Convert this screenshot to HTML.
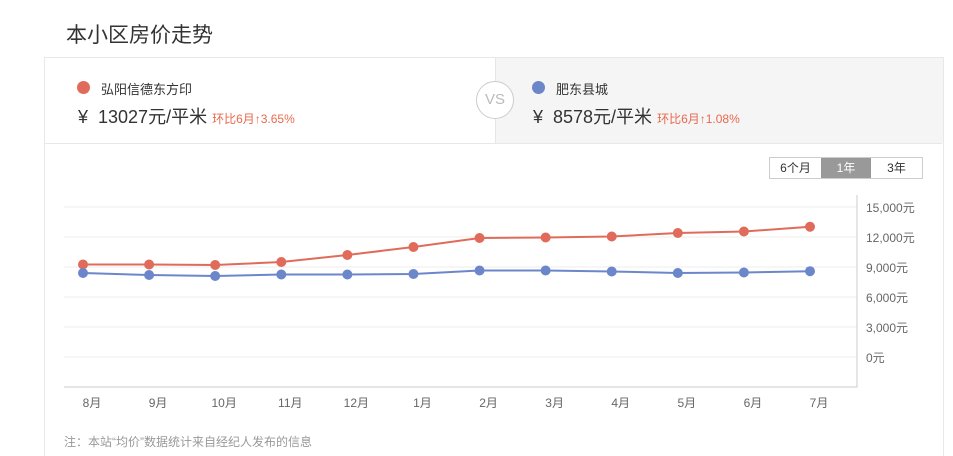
<!DOCTYPE html>
<html><head><meta charset="utf-8"><style>
html,body{margin:0;width:953px;height:456px;overflow:hidden}
body{background:#fff;font-family:"Liberation Sans","Noto Sans CJK SC",sans-serif;position:relative;color:#333}
.a{position:absolute}
</style></head><body>
<div class="a" style="left:66px;top:19px;font-size:21px;color:#333">本小区房价走势</div>
<div class="a" style="left:44px;top:57px;width:898px;height:410px;border:1px solid #e8e8e8"></div>
<div class="a" style="left:495px;top:58px;width:447px;height:85px;background:#f5f5f5;border-left:1px solid #e6e6e6"></div>
<div class="a" style="left:45px;top:143px;width:897px;height:1px;background:#e8e8e8"></div>
<div class="a" style="left:476px;top:81px;width:36px;height:36px;border:1px solid #ccc;border-radius:50%;background:#fff;text-align:center;line-height:36px;font-size:15px;color:#bbb">VS</div>
<div class="a" style="left:77px;top:81px;width:13px;height:13px;border-radius:50%;background:#e06b5a"></div>
<div class="a" style="left:101px;top:79px;font-size:13px;color:#333">弘阳信德东方印</div>
<div class="a" style="left:78px;top:103px;font-size:18px;color:#333">¥&nbsp; 13027元/平米 <span style="font-size:12px;color:#e8694d">环比6月↑3.65%</span></div>
<div class="a" style="left:532px;top:81px;width:13px;height:13px;border-radius:50%;background:#6b86c9"></div>
<div class="a" style="left:556px;top:79px;font-size:13px;color:#333">肥东县城</div>
<div class="a" style="left:533px;top:103px;font-size:18px;color:#333">¥&nbsp; 8578元/平米 <span style="font-size:12px;color:#e8694d">环比6月↑1.08%</span></div>
<div class="a" style="left:769px;top:157px;width:152px;height:20px;border:1px solid #ccc;display:flex;font-size:12px;line-height:20px;text-align:center">
<div style="width:51px;background:#fff">6个月</div>
<div style="width:50px;background:#999;color:#fff">1年</div>
<div style="width:51px;background:#fff">3年</div>
</div>
<svg class="a" style="left:0;top:0" width="953" height="456" id="chart"></svg>
<div class="a" style="left:64px;top:433px;font-size:12px;color:#999">注：本站“均价”数据统计来自经纪人发布的信息</div>
<script>
const months=["8月","9月","10月","11月","12月","1月","2月","3月","4月","5月","6月","7月"];
const seriesA=[9250,9250,9200,9500,10200,11000,11900,11950,12050,12400,12550,13027];
const seriesB=[8400,8200,8100,8250,8250,8300,8650,8650,8550,8400,8450,8578];
const ticks=[0,3000,6000,9000,12000,15000];
const tickLabels=["0元","3,000元","6,000元","9,000元","12,000元","15,000元"];
const NS="http://www.w3.org/2000/svg";
const svg=document.getElementById('chart');
const x=i=>83+i*(810-83)/(months.length-1);
const y=v=>357-v*0.01;
function el(t,a){const e=document.createElementNS(NS,t);for(const k in a)e.setAttribute(k,a[k]);svg.appendChild(e);return e;}
ticks.forEach((t,i)=>{
 const g=el('line',{x1:64,x2:857,y1:y(t),y2:y(t),stroke:'#eee'});
 
 
 const tx=el('text',{x:866,y:y(t)+5,'font-size':12,fill:'#666'});tx.textContent=tickLabels[i];
 
 
});
const ax=el('path',{d:'M64 387H857V195',stroke:'#ccc',fill:'none'});


months.forEach((m,i)=>{const t=el('text',{x:x(i)+9,y:407,'font-size':12,fill:'#666','text-anchor':'middle'});t.textContent=m;
 
 });
[[seriesA,'#e06b5a','series-a'],[seriesB,'#6b86c9','series-b']].forEach(([s,c,n])=>{
 const p=el('polyline',{points:s.map((v,i)=>x(i)+','+y(v)).join(' '),stroke:c,'stroke-width':2,fill:'none'});
 
 
 s.forEach((v,i)=>{const d=el('circle',{cx:x(i),cy:y(v),r:5,fill:c});
  
  });
});
</script>
</body></html>
